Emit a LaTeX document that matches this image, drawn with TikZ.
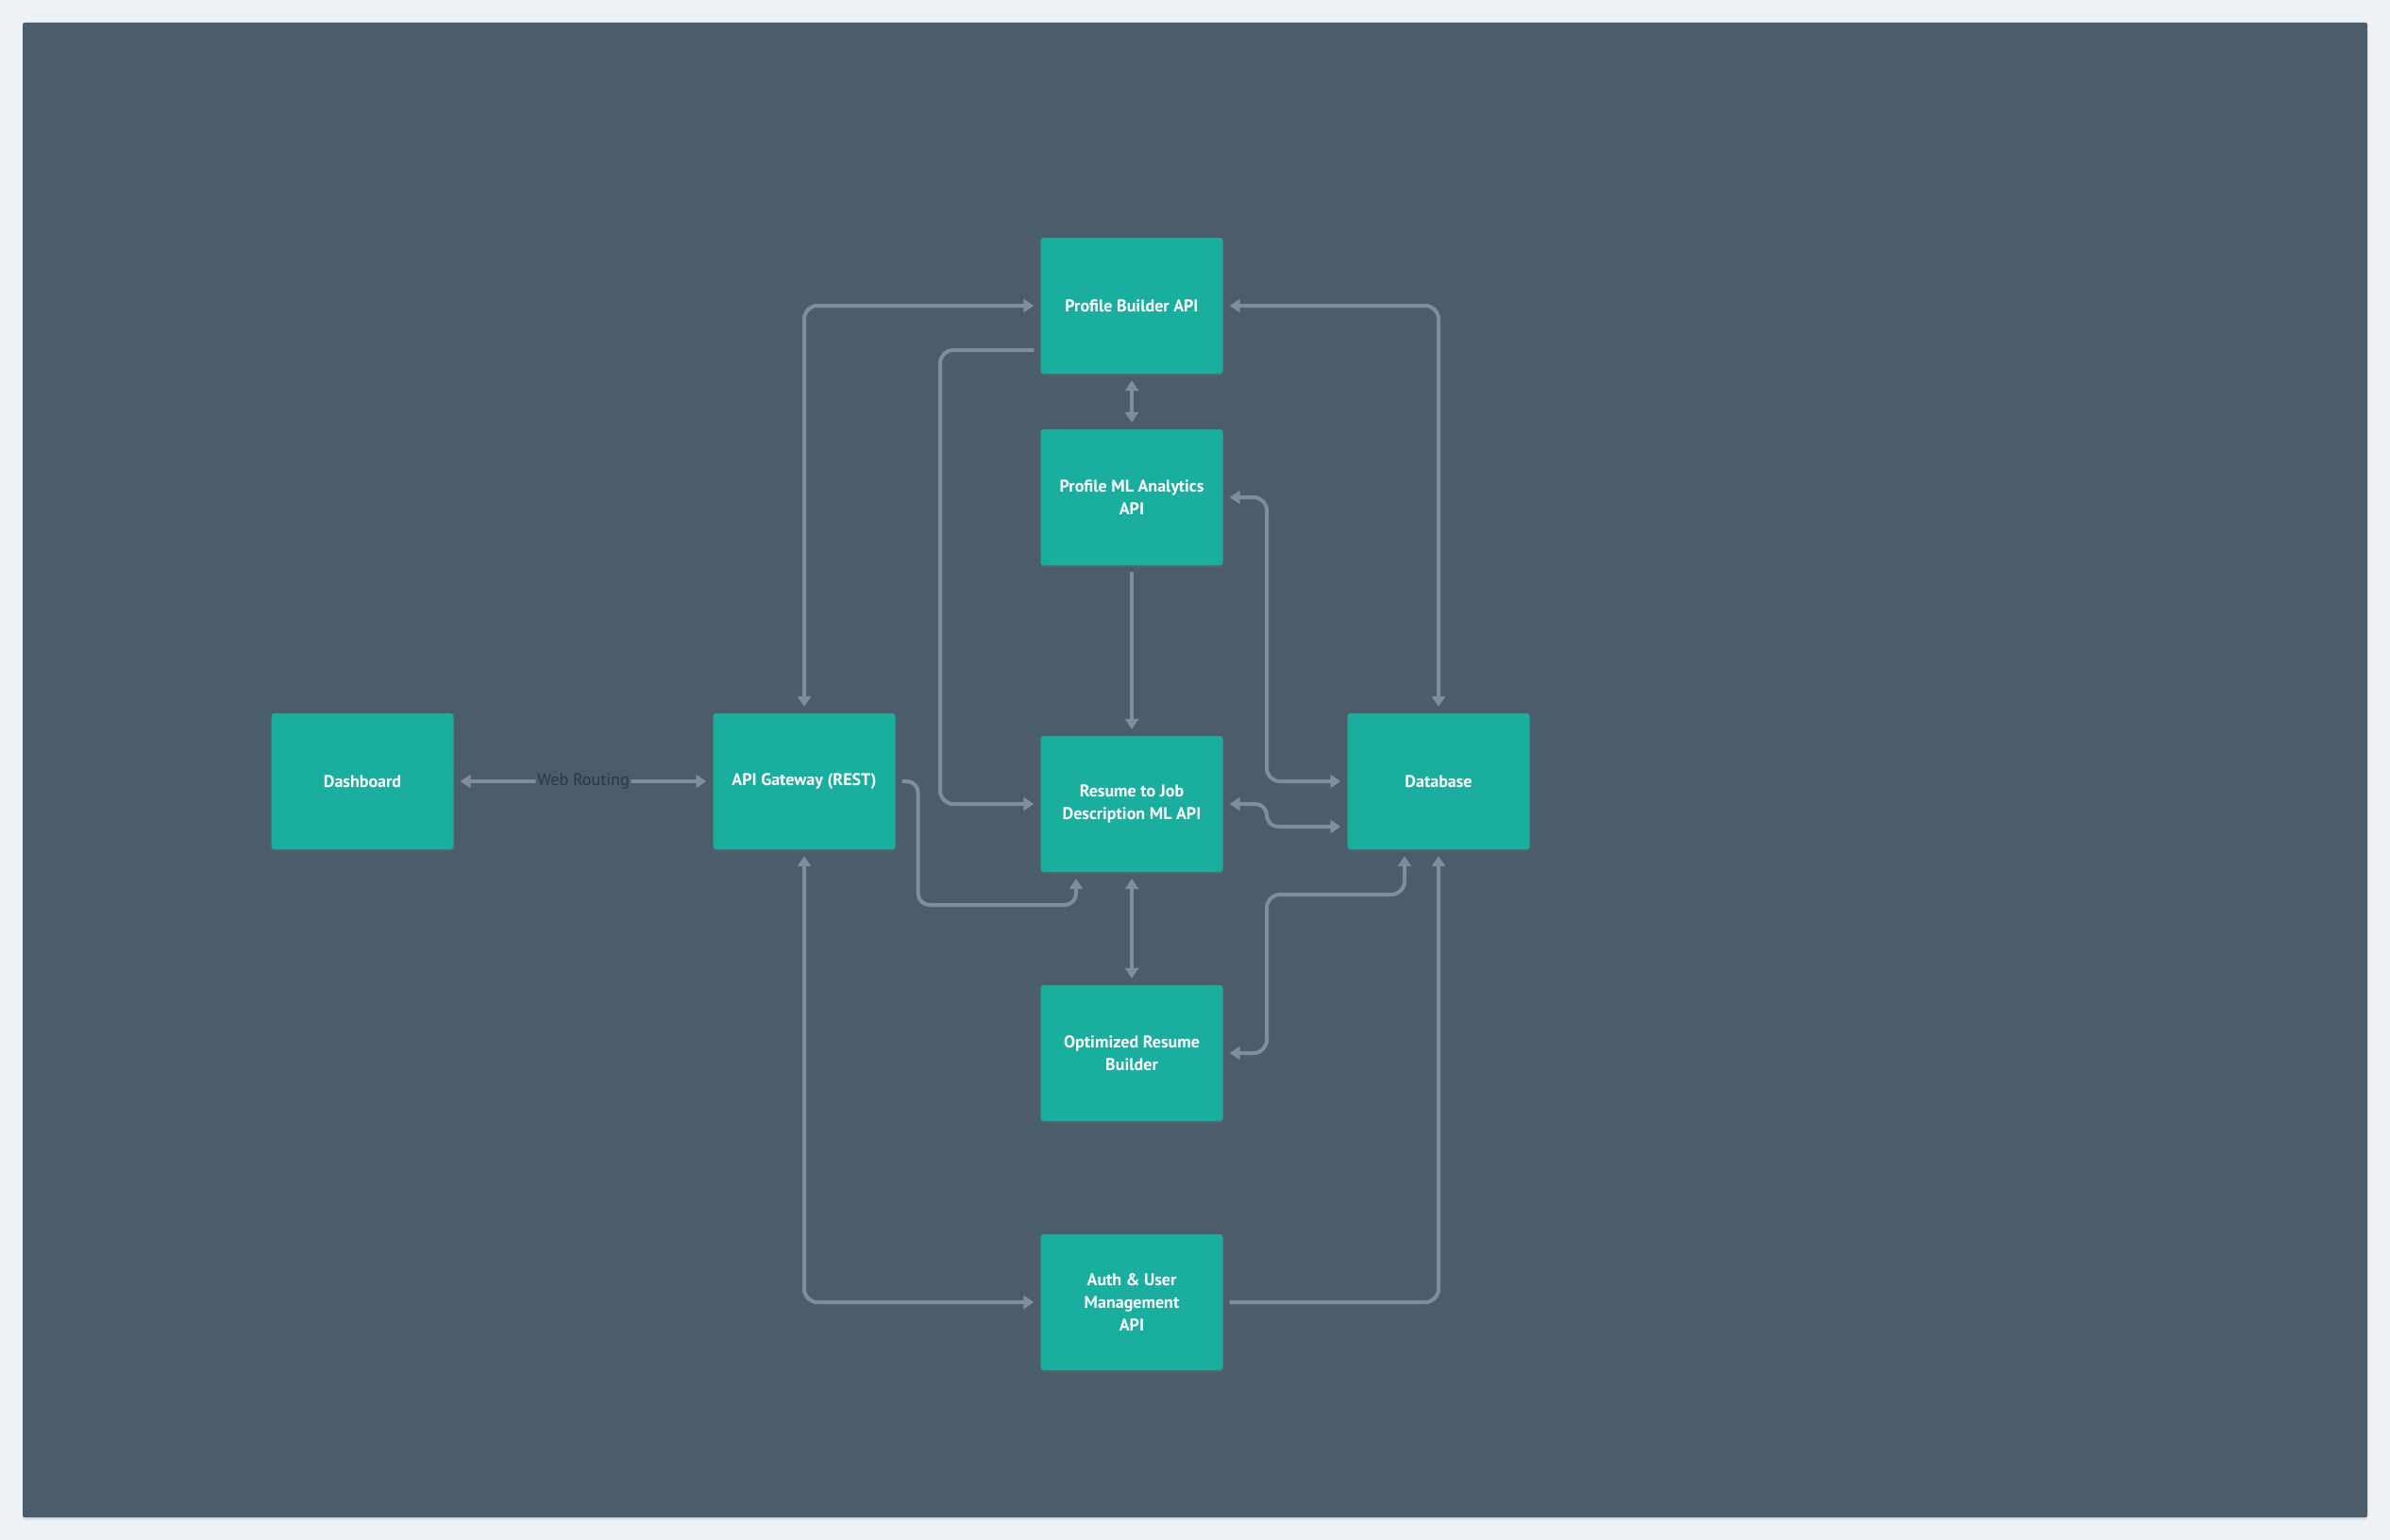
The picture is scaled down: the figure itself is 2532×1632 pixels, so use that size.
\documentclass[tikz,border=0pt]{standalone}
\usepackage{fontspec}
\setmainfont{PT Sans}
\usetikzlibrary{arrows.meta,shadows,calc}
\definecolor{pagebg}{HTML}{EEF2F5}
\definecolor{canvasbg}{HTML}{4B5D6B}
\definecolor{boxteal}{HTML}{1AAE9F}
\definecolor{wire}{HTML}{7F8E9C}
\definecolor{labelink}{HTML}{2B3844}
\begin{document}
\begin{tikzpicture}[x=1pt,y=-1pt,
  box/.style={fill=boxteal, rounded corners=3pt, minimum width=193pt, minimum height=144pt,
    align=center, text=white, font=\bfseries\fontsize{18}{24}\selectfont,
    drop shadow={opacity=0.25, shadow xshift=0pt, shadow yshift=-2pt}},
  link/.style={draw=wire, line width=4pt, rounded corners=14pt, shorten <=7pt, shorten >=7pt},
  arr/.style={link, -{Triangle[length=11pt,width=14pt]}},
  biarr/.style={link, {Triangle[length=11pt,width=14pt]}-{Triangle[length=11pt,width=14pt]}},
  tag/.style={fill=canvasbg, text=labelink, inner sep=2pt, font=\fontsize{18}{22}\selectfont},
]
% page and canvas
\useasboundingbox (0,0) rectangle (2532,1632);
\fill[pagebg] (0,0) rectangle (2532,1632);
\fill[canvasbg, rounded corners=2pt, drop shadow={opacity=0.15, shadow xshift=0pt, shadow yshift=-3pt}]
  (24,24) rectangle (2508,1608);

% services
\node[box] (dash) at (384,828)  {Dashboard};
\node[box] (gw)   at (852,828)  {API Gateway (REST)};
\node[box] (pb)   at (1199,324) {Profile Builder API};
\node[box] (ml)   at (1199,527) {Profile ML Analytics\\API};
\node[box] (rj)   at (1199,852) {Resume to Job\\Description ML API};
\node[box] (db)   at (1524,828) {Database};
\node[box] (orb)  at (1199,1116) {Optimized Resume\\Builder};
\node[box] (auth) at (1199,1380) {Auth \& User\\Management\\API};

% routing lanes
\coordinate (vl) at (996,0);
\coordinate (vr) at (1342,0);
\coordinate (gwdrop) at (1140,959);
\coordinate (orbtap) at (1342,948);

% connectors
\draw[biarr] (dash.east) -- node[tag] {Web Routing} (gw.west);
\draw[biarr] (gw.north) |- (pb.west);
\draw[arr] ([yshift=-47pt]pb.west) -| (vl |- rj.west) -- (rj.west);
\draw[biarr] (pb.south) -- (ml.north);
\draw[arr] (ml.south) -- (rj.north);
\draw[biarr] (pb.east) -| (db.north);
\draw[biarr] (ml.east) -| (vr |- db.west) -- (db.west);
\draw[biarr, rounded corners=12pt] (rj.east) -| ($(vr |- db.west)+(0,48)$) -- ([yshift=-48pt]db.west);
\draw[arr, rounded corners=12pt] (gw.east) -- ++(24,0) |- (gwdrop) -- ([xshift=-59pt]rj.south);
\draw[biarr] (rj.south) -- (orb.north);
\draw[biarr] (orb.east) -| (orbtap) -| ([xshift=-36pt]db.south);
\draw[biarr] (gw.south) |- (auth.west);
\draw[arr] (auth.east) -| (db.south);
\end{tikzpicture}
\end{document}
